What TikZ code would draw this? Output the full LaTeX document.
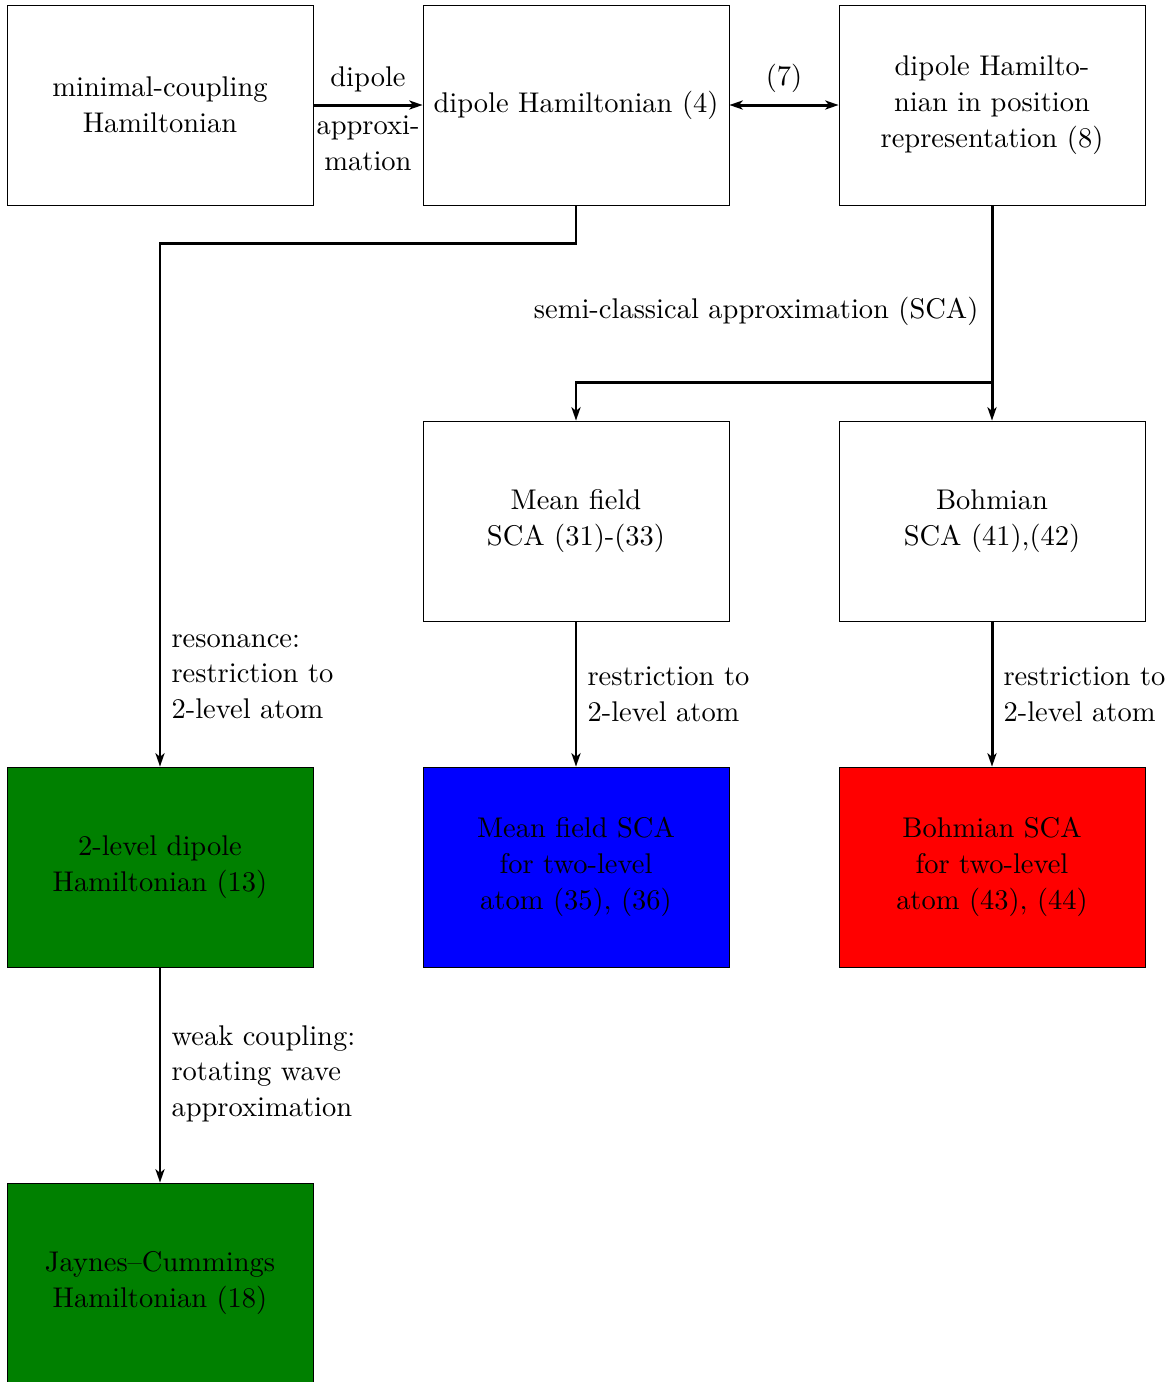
\documentclass[tikz,border=0pt]{standalone}
\usetikzlibrary{arrows.meta}
\definecolor{boxgreen}{RGB}{0,128,0}
\definecolor{boxblue}{RGB}{0,0,255}
\definecolor{boxred}{RGB}{255,0,0}
\begin{document}
\begin{tikzpicture}[x=0.351pt,y=-0.351pt,
  every node/.style={font=\fontsize{10}{12.6}\selectfont},
  box/.style={draw=black,line width=0.3pt,rectangle,inner sep=0pt,
    minimum width=107.4pt,minimum height=70.2pt,align=center},
  arr/.style={line width=1.05pt,-{Stealth[length=4.7pt,width=3.2pt,inset=1.3pt]}},
  dbl/.style={line width=1.05pt,{Stealth[length=4.7pt,width=3.2pt,inset=1.3pt]}-{Stealth[length=4.7pt,width=3.2pt,inset=1.3pt]}},
  lbl/.style={inner sep=0pt,align=left,font=\fontsize{10}{12.5}\selectfont},
  clbl/.style={inner sep=0pt,align=center,font=\fontsize{10}{12.5}\selectfont}]
\useasboundingbox (0,0) rectangle (1174,1382);

\node[box] (mc)  at (160,105) {minimal-coupling\\Hamiltonian};
\node[box] (dip) at (576,105) {dipole Hamiltonian (4)};
\node[box] (pos) at (992,105) {dipole Hamilto-\\nian in position\\representation (8)};
\node[box] (mf)  at (576,521) {Mean field\\SCA (31)-(33)};
\node[box] (bo)  at (992,521) {Bohmian\\SCA (41),(42)};
\node[box,fill=boxgreen] (tl) at (160,867) {2-level dipole\\Hamiltonian (13)};
\node[box,fill=boxblue]  (mft) at (576,867) {Mean field SCA\\for two-level\\atom (35), (36)};
\node[box,fill=boxred]   (bot) at (992,867) {Bohmian SCA\\for two-level\\atom (43), (44)};
\node[box,fill=boxgreen] (jc) at (160,1283) {Jaynes--Cummings\\Hamiltonian (18)};

% dipole approximation
\draw[arr] (mc.east) -- (dip.west);
\node[clbl] (l1a) at (368,79) {dipole};
\node[clbl] (l1b) at (368,143.5) {approxi-\\mation};

% (7)
\draw[dbl] (dip.east) -- (pos.west);
\node[clbl] (l7) at (784,78) {(7)};

% resonance
\draw[arr] (dip.south) -- ++(0,38) -| (tl.north);
\node[lbl,anchor=west] (lres) at (171,676.5) {resonance:\\restriction to\\2-level atom};

% SCA split
\coordinate (split) at (992,382);
\draw[line width=1.05pt] (pos.south) -- (split);
\draw[arr] (split) -- (bo.north);
\draw[arr] (split) -| (mf.north);
\node[lbl,anchor=east] (lsca) at (979,311) {semi-classical approximation (SCA)};

% restrictions
\draw[arr] (mf.south) -- (mft.north);
\node[lbl,anchor=west] (lr1) at (587,694.5) {restriction to\\2-level atom};
\draw[arr] (bo.south) -- (bot.north);
\node[lbl,anchor=west] (lr2) at (1003,694.5) {restriction to\\2-level atom};

% weak coupling
\draw[arr] (tl.south) -- (jc.north);
\node[lbl,anchor=west] (lwc) at (171,1073.5) {weak coupling:\\rotating wave\\approximation};
\end{tikzpicture}
\end{document}
